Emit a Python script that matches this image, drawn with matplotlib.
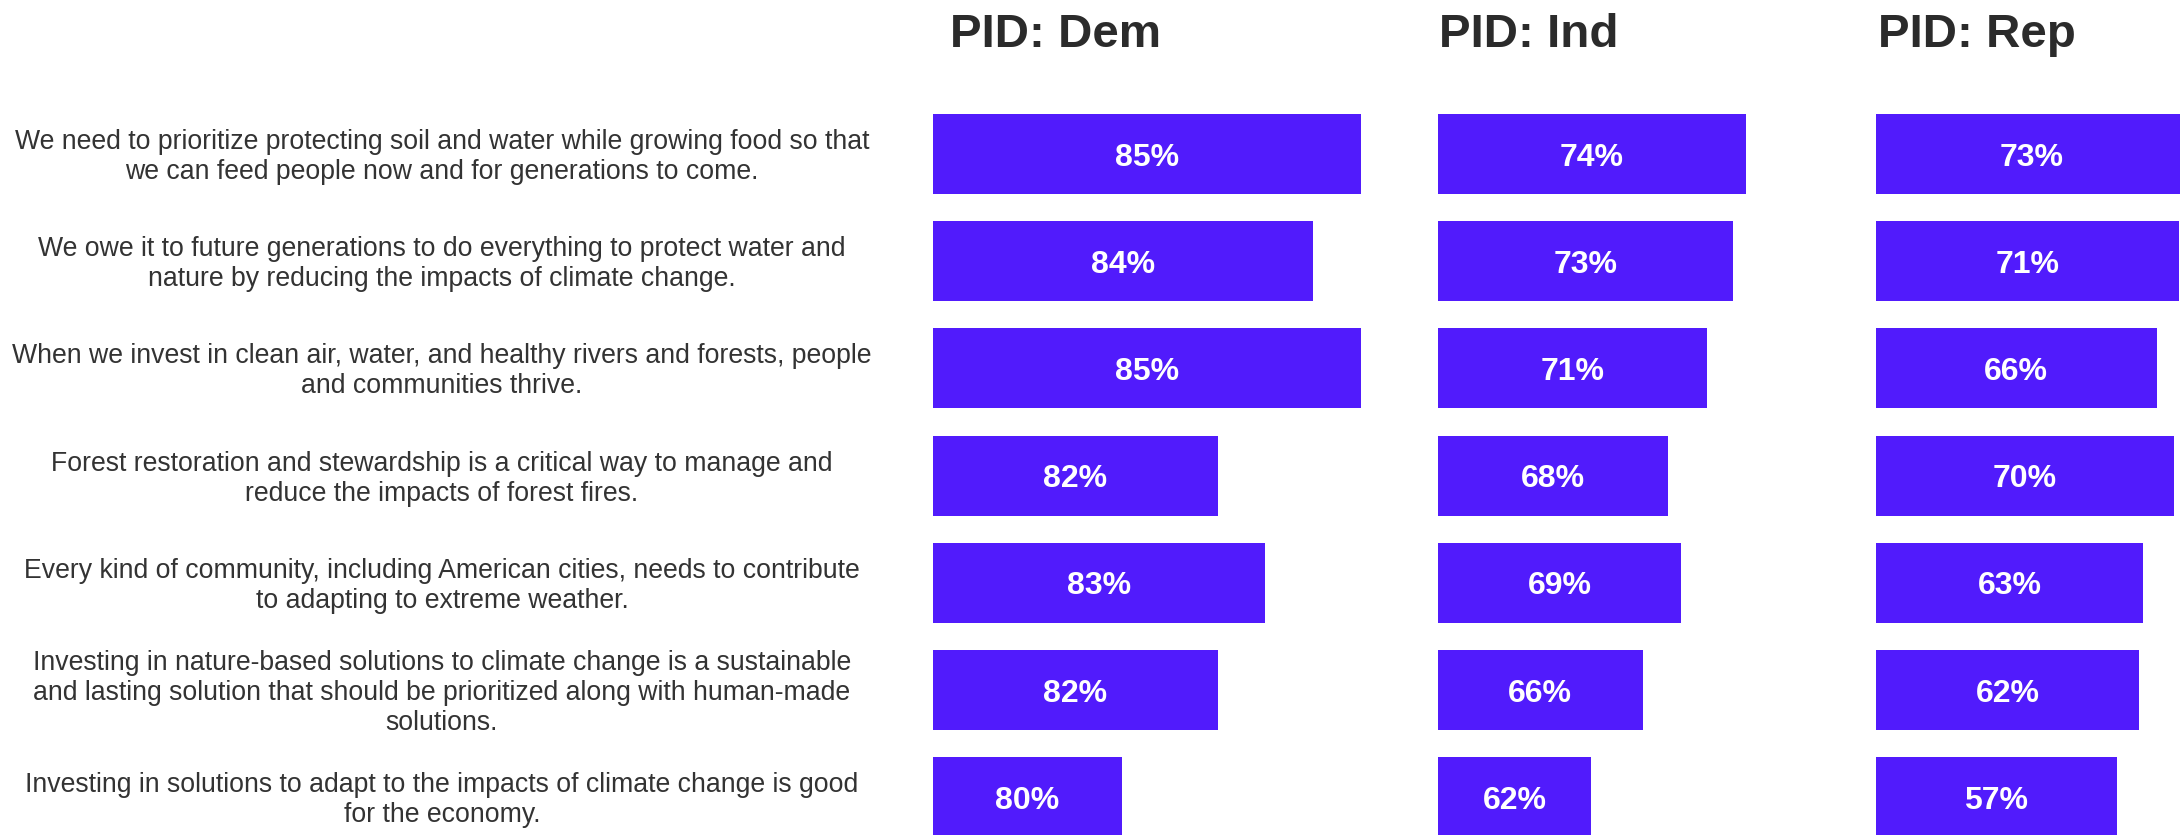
import numpy as np
import matplotlib
matplotlib.use('Agg')
import matplotlib.pyplot as plt
from matplotlib.transforms import offset_copy

plt.rcParams['font.family'] = ['Liberation Sans', 'DejaVu Sans']

statements = [
    'We need to prioritize protecting soil and water while growing food so that\nwe can feed people now and for generations to come.',
    'We owe it to future generations to do everything to protect water and\nnature by reducing the impacts of climate change.',
    'When we invest in clean air, water, and healthy rivers and forests, people\nand communities thrive.',
    'Forest restoration and stewardship is a critical way to manage and\nreduce the impacts of forest fires.',
    'Every kind of community, including American cities, needs to contribute\nto adapting to extreme weather.',
    'Investing in nature-based solutions to climate change is a sustainable\nand lasting solution that should be prioritized along with human-made\nsolutions.',
    'Investing in solutions to adapt to the impacts of climate change is good\nfor the economy.',
]
panel_titles = ['PID: Dem', 'PID: Ind', 'PID: Rep']
dem = [85, 84, 85, 82, 83, 82, 80]
ind = [74, 73, 71, 68, 69, 66, 62]
rep = [73, 71, 66, 70, 63, 62, 57]

BAR = '#511BFC'
TXT = '#333333'
W, H = 2180, 835

fig = plt.figure(figsize=(W / 100, H / 100), dpi=100)

# each panel has its own x range (as in the original chart)
panels = [
    # left px, width px, xlim, title x px
    (933, 460, (76.05, 85.67), 950, dem),
    (1438, 400, (50.16, 81.12), 1439, ind),
    (1876, 304, (2.23, 71.32), 1878, rep),
]
ylim = (6.3526, -1.4366)
y = np.arange(len(statements))

for (left, width, xlim, tx, vals), title in zip(panels, panel_titles):
    ax = fig.add_axes([left / W, 0, width / W, 1])
    ax.barh(y, vals, left=0, height=80 / 107.2, color=BAR)
    ax.set_xlim(*xlim)
    ax.set_ylim(*ylim)
    ax.axis('off')
    for yi, v in zip(y, vals):
        xc = (max(xlim[0], 0) + v) / 2
        ax.text(xc, yi, f'{v}%', color='white', fontsize=23, fontweight='bold',
                ha='center', va='center_baseline')
    fig.text(tx / W, 1 - 47 / H, title, fontsize=34.2, fontweight='bold',
             color='#2b2b2b', ha='left', va='baseline')

# statement labels on the left
axl = fig.add_axes([0, 0, 884 / W, 1])
axl.set_xlim(0, 1)
axl.set_ylim(*ylim)
axl.axis('off')
tr = offset_copy(axl.transData, fig=fig, x=0, y=-3, units='dots')
for yi, s in zip(y, statements):
    axl.text(0.5, yi, s, fontsize=19.2, color=TXT, ha='center', va='center',
             multialignment='center', linespacing=1.2, transform=tr)

fig.savefig('out.png', dpi=100)
